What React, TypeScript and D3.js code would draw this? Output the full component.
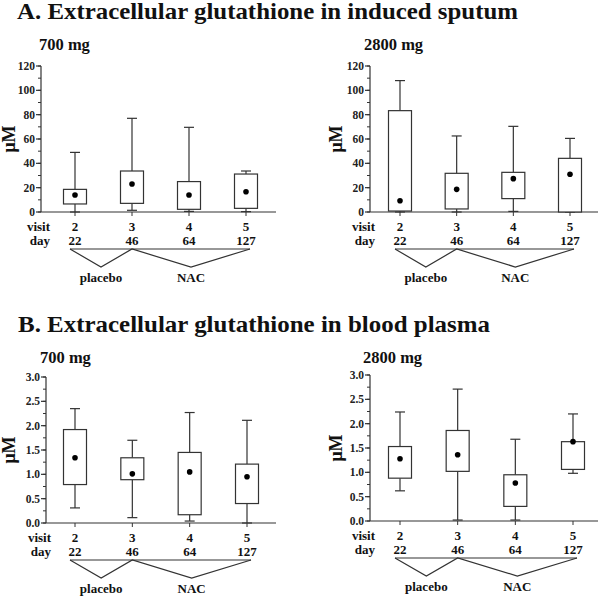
import React from 'react';
import * as d3 from 'd3';

// --- DATA ---
const visits = ['2', '3', '4', '5'];
const days = ['22', '46', '64', '127'];

// each row: [whisker low, box low, box high, whisker high, mean]
const sputum700 = [
  [0, 6.6, 18.6, 49, 14],
  [1.4, 7.1, 33.7, 77, 23],
  [0.5, 2.2, 25, 69.6, 14],
  [0.3, 3, 31.2, 33.7, 16.7],
];
const sputum2800 = [
  [0, 0.8, 83.3, 108, 9.3],
  [0, 2.5, 31.8, 62.5, 18.6],
  [0.5, 11, 32.6, 70.4, 27.4],
  [0, 0, 44.1, 60.5, 31],
];
const plasma700 = [
  [0.31, 0.79, 1.92, 2.35, 1.34],
  [0.11, 0.89, 1.34, 1.7, 1.01],
  [0.04, 0.17, 1.45, 2.27, 1.05],
  [0, 0.4, 1.21, 2.11, 0.95],
];
const plasma2800 = [
  [0.62, 0.88, 1.53, 2.24, 1.28],
  [0.02, 1.02, 1.86, 2.71, 1.36],
  [0.02, 0.3, 0.95, 1.68, 0.78],
  [0.98, 1.06, 1.63, 2.2, 1.63],
];

const sputumTicks = [0, 20, 40, 60, 80, 100, 120];
const plasmaTicks = [0, 0.5, 1, 1.5, 2, 2.5, 3];

const FONT = '"Liberation Serif", "Times New Roman", serif';
const INK = '#333';

interface PanelProps {
  title: string;
  rows: number[][];
  ticks: number[];
  minorStep: number;
  fmt: (v: number) => string;
  axisX: number;
  xEnd: number;
  yBottom: number;
  yTop: number;
  firstX: number;
  lastX: number;
  titleX: number;
  titleY: number;
  labelRight: number;
  muX: number;
}

const Panel: React.FC<PanelProps> = ({
  title, rows, ticks, minorStep, fmt, axisX, xEnd, yBottom, yTop, firstX, lastX, titleX, titleY, labelRight, muX,
}) => {
  const yMax = ticks[ticks.length - 1];
  const y = d3.scaleLinear().domain([0, yMax]).range([yBottom, yTop]);
  const x = d3.scalePoint<string>().domain(visits).range([firstX, lastX]);
  const minor = d3.range(0, yMax + minorStep / 2, minorStep);
  const boxW = 23;
  const capW = 10;

  const visitY = yBottom + 19;
  const dayY = yBottom + 33;
  const brY = yBottom + 37;
  const brBottom = brY + 18;
  const start = x(visits[0])! - 5;
  const joint = x(visits[1])!;
  const end = x(visits[3])! + 4;
  const pMid = (start + joint) / 2;
  const nMid = (joint + end) / 2;

  return (
    <g fontFamily={FONT} fontWeight="bold">
      <text x={titleX} y={titleY} fontSize={16.5} fill="#111">{title}</text>
      <text
        transform={`translate(${muX},${(yTop + yBottom) / 2}) rotate(-90)`}
        textAnchor="middle"
        fontSize={18}
        fill="#111"
      >μM</text>

      {/* y axis */}
      <line x1={axisX} x2={axisX} y1={yTop} y2={yBottom} stroke={INK} strokeWidth={1.2} />
      {minor.map((v) => (
        <line key={'m' + v} x1={axisX - 3} x2={axisX} y1={y(v)} y2={y(v)} stroke={INK} strokeWidth={1} />
      ))}
      {ticks.map((v) => (
        <g key={'t' + v}>
          <line x1={axisX - 5} x2={axisX} y1={y(v)} y2={y(v)} stroke={INK} strokeWidth={1.2} />
          <text x={axisX - 6} y={y(v) + 4} textAnchor="end" fontSize={11.5} fill="#222">{fmt(v)}</text>
        </g>
      ))}

      {/* x axis */}
      <line x1={axisX} x2={xEnd} y1={yBottom} y2={yBottom} stroke={INK} strokeWidth={1.2} />
      {visits.map((v) => (
        <line key={'xt' + v} x1={x(v)!} x2={x(v)!} y1={yBottom} y2={yBottom + 4} stroke={INK} strokeWidth={1} />
      ))}

      {/* boxes */}
      {rows.map((r, i) => {
        const cx = x(visits[i])!;
        const [lo, q1, q3, hi, mean] = r;
        return (
          <g key={'b' + i}>
            <line x1={cx} x2={cx} y1={y(q3)} y2={y(hi)} stroke={INK} strokeWidth={1.2} />
            <line x1={cx - capW / 2} x2={cx + capW / 2} y1={y(hi)} y2={y(hi)} stroke={INK} strokeWidth={1.2} />
            <line x1={cx} x2={cx} y1={y(q1)} y2={y(lo)} stroke={INK} strokeWidth={1.2} />
            <line x1={cx - capW / 2} x2={cx + capW / 2} y1={y(lo)} y2={y(lo)} stroke={INK} strokeWidth={1.2} />
            <rect x={cx - boxW / 2} y={y(q3)} width={boxW} height={Math.max(0.5, y(q1) - y(q3))}
              fill="#fff" stroke={INK} strokeWidth={1.2} />
            <circle cx={cx} cy={y(mean)} r={2.8} fill="#000" />
          </g>
        );
      })}

      {/* visit / day rows */}
      <text x={labelRight} y={visitY} textAnchor="end" fontSize={13} fill="#111">visit</text>
      <text x={labelRight} y={dayY} textAnchor="end" fontSize={13} fill="#111">day</text>
      {visits.map((v, i) => (
        <g key={'l' + v}>
          <text x={x(v)!} y={visitY} textAnchor="middle" fontSize={13} fill="#111">{v}</text>
          <text x={x(v)!} y={dayY} textAnchor="middle" fontSize={13} fill="#111">{days[i]}</text>
        </g>
      ))}

      {/* treatment bracket */}
      <line x1={start} x2={end} y1={brY} y2={brY} stroke={INK} strokeWidth={1.2} />
      <polyline points={`${start},${brY} ${pMid},${brBottom} ${joint},${brY} ${nMid},${brBottom} ${end},${brY}`}
        fill="none" stroke={INK} strokeWidth={1.2} />
      <text x={pMid} y={brBottom + 15} textAnchor="middle" fontSize={13} fill="#111">placebo</text>
      <text x={nMid} y={brBottom + 15} textAnchor="middle" fontSize={13} fill="#111">NAC</text>
    </g>
  );
};

const fmtInt = (v: number) => d3.format('d')(v);
const fmtDec = (v: number) => d3.format('.1f')(v);

export default function App() {
  return (
    <svg width={600} height={596} style={{ position: 'absolute', left: 0, top: 0, background: '#fff' }}>
      <text x={17} y={19} fontFamily={FONT} fontWeight="bold" fontSize={23} fill="#111"
        textLength={501} lengthAdjust="spacingAndGlyphs">
        A. Extracellular glutathione in induced sputum
      </text>
      <Panel title="700 mg" rows={sputum700} ticks={sputumTicks} minorStep={10} fmt={fmtInt}
        axisX={41} xEnd={276} yBottom={212} yTop={66} firstX={75} lastX={246}
        titleX={39} titleY={50} labelRight={50} muX={15} />
      <Panel title="2800 mg" rows={sputum2800} ticks={sputumTicks} minorStep={10} fmt={fmtInt}
        axisX={370} xEnd={598} yBottom={212} yTop={66} firstX={400} lastX={570}
        titleX={364} titleY={50} labelRight={375} muX={342} />

      <text x={18} y={332} fontFamily={FONT} fontWeight="bold" fontSize={23} fill="#111"
        textLength={472} lengthAdjust="spacingAndGlyphs">
        B. Extracellular glutathione in blood plasma
      </text>
      <Panel title="700 mg" rows={plasma700} ticks={plasmaTicks} minorStep={0.25} fmt={fmtDec}
        axisX={46} xEnd={276} yBottom={523} yTop={377} firstX={75} lastX={247}
        titleX={40} titleY={363} labelRight={51} muX={15} />
      <Panel title="2800 mg" rows={plasma2800} ticks={plasmaTicks} minorStep={0.25} fmt={fmtDec}
        axisX={370} xEnd={598} yBottom={521} yTop={375} firstX={400} lastX={573}
        titleX={363} titleY={363} labelRight={375} muX={342} />
    </svg>
  );
}
